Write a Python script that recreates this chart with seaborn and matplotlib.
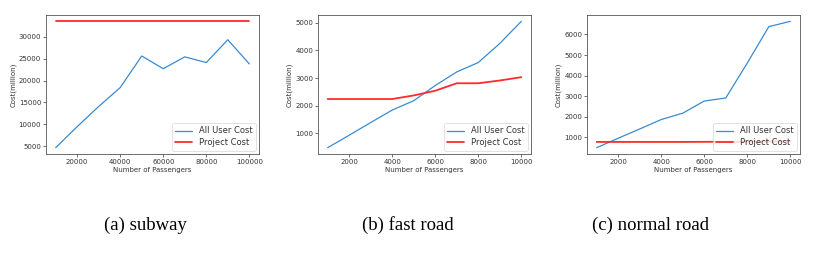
import matplotlib
matplotlib.use("Agg")
import matplotlib.pyplot as plt
import seaborn as sns
import pandas as pd

# ---- data ----
subway_x = [10000, 20000, 30000, 40000, 50000, 60000, 70000, 80000, 90000, 100000]
subway_user = [4700, 9500, 14100, 18400, 25600, 22700, 25400, 24100, 29300, 23800]
subway_project = [33500] * 10

road_x = [1000, 2000, 3000, 4000, 5000, 6000, 7000, 8000, 9000, 10000]
fast_user = [480, 930, 1390, 1840, 2180, 2730, 3220, 3560, 4250, 5050]
fast_project = [2240, 2240, 2240, 2240, 2370, 2540, 2810, 2810, 2910, 3030]

normal_user = [490, 950, 1400, 1860, 2170, 2760, 2910, 4610, 6380, 6640]
normal_project = [770, 770, 770, 770, 770, 775, 780, 785, 790, 790]

captions = ["(a) subway", "(b) fast road", "(c) normal road"]
series_names = ["All User Cost", "Project Cost"]
xlabel = "Number of Passengers"
ylabel = "Cost(million)"

panels = [
    (subway_x, subway_user, subway_project),
    (road_x, fast_user, fast_project),
    (road_x, normal_user, normal_project),
]

sns.set_theme(style="ticks")
plt.rcParams['font.family'] = ['DejaVu Sans']

fig = plt.figure(figsize=(8.16, 2.56), dpi=100)
lefts = [46, 318, 587]
fs = 5.0
centers = [145, 408, 650]

for i, (xs, user, proj) in enumerate(panels):
    ax = fig.add_axes([lefts[i] / 816, 102 / 256, 213 / 816, 139 / 256])
    df = pd.DataFrame({"x": xs, series_names[0]: user, series_names[1]: proj})
    sns.lineplot(data=df, x="x", y=series_names[0], ax=ax, color="#3a8ad0",
                 linewidth=0.9, label=series_names[0])
    sns.lineplot(data=df, x="x", y=series_names[1], ax=ax, color="#ff2a2a",
                 linewidth=1.3, label=series_names[1])
    ax.set_xlabel(xlabel, fontsize=fs, labelpad=1.5, color="#333333")
    ax.set_ylabel(ylabel, fontsize=fs, labelpad=1.5, color="#333333")
    ax.tick_params(labelsize=fs, length=2, width=0.5, pad=1.5, colors="#333333")
    for sp in ax.spines.values():
        sp.set_linewidth(0.6)
        sp.set_color("#555555")
        sp.set_visible(True)
    leg = ax.legend(loc="lower right", fontsize=6, frameon=True, handlelength=2.0,
                    borderpad=0.4, labelspacing=0.35, borderaxespad=0.4)
    leg.get_frame().set_linewidth(0.5)
    for t in leg.get_texts():
        t.set_color("#333333")
    fig.text(centers[i] / 816, 1 - 225 / 256, captions[i], ha="center", va="center",
             fontsize=13.5, family=["Liberation Serif"], color="black")

fig.savefig("out.png", dpi=100)
